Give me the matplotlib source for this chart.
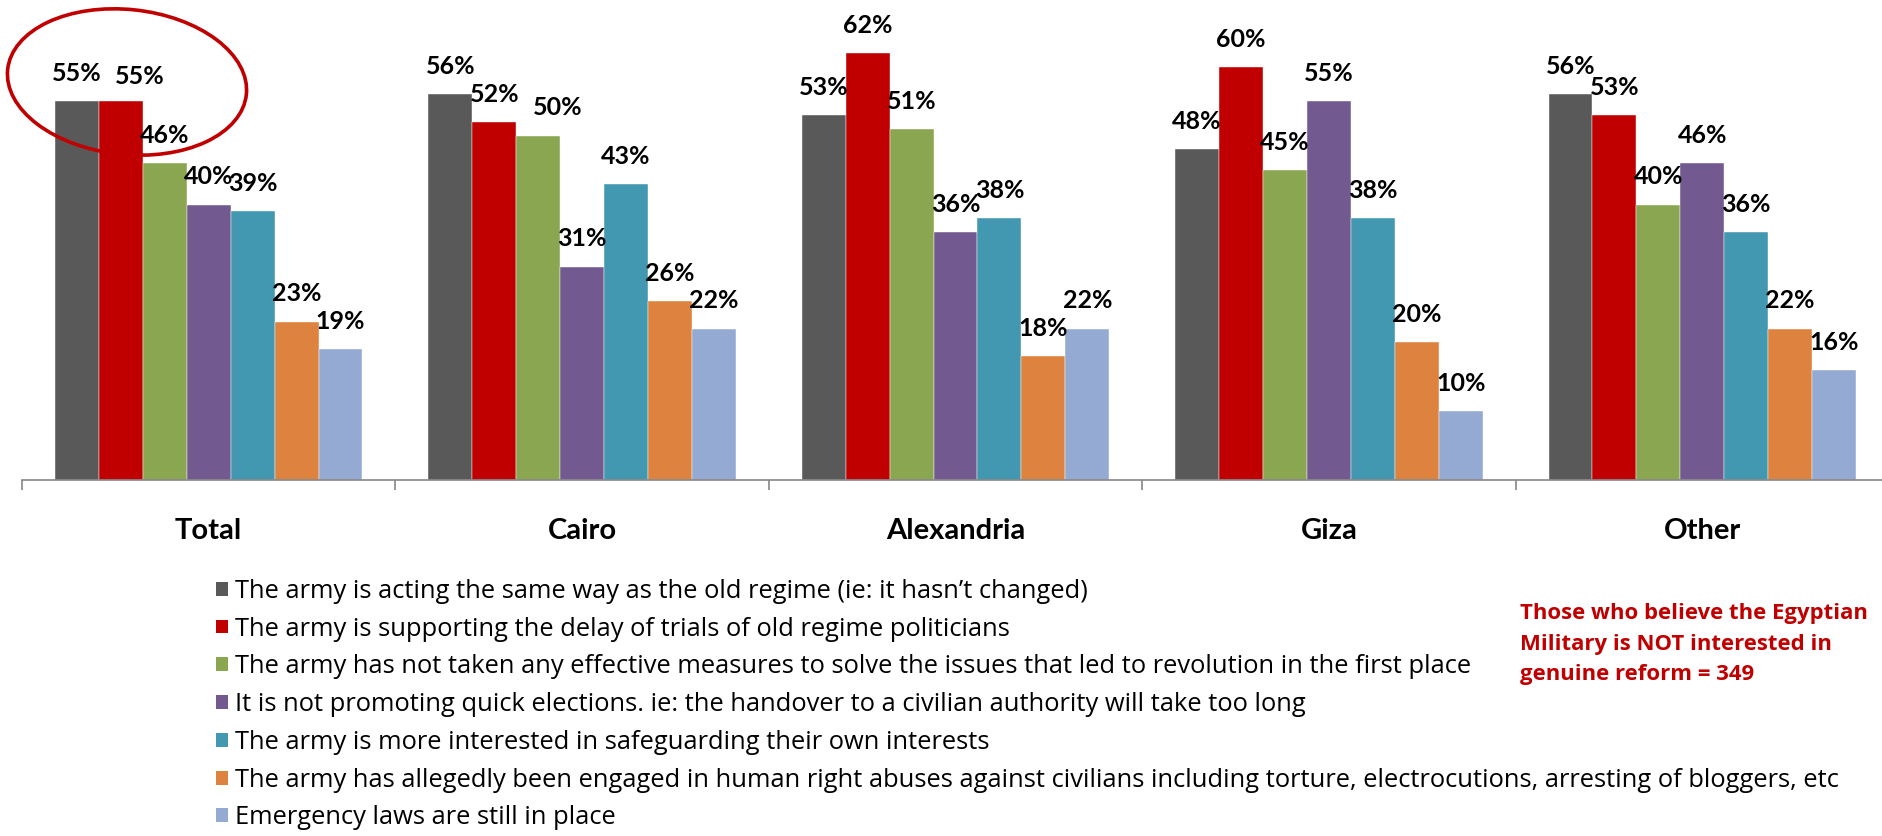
import matplotlib
matplotlib.use('Agg')
import matplotlib.pyplot as plt
from matplotlib.patches import Patch, Ellipse
from matplotlib.transforms import IdentityTransform
import numpy as np

plt.rcParams['font.family'] = ['Lato', 'DejaVu Sans']

regions = ['Total', 'Cairo', 'Alexandria', 'Giza', 'Other']
reasons = [
    "The army is acting the same way as the old regime (ie: it hasn\u2019t changed)",
    "The army is supporting the delay of trials of old regime politicians",
    "The army has not taken any effective measures to solve the issues that led to revolution in the first place",
    "It is not promoting quick elections. ie: the handover to a civilian authority will take too long",
    "The army is more interested in safeguarding their own interests",
    "The army has allegedly been engaged in human right abuses against civilians including torture, electrocutions, arresting of bloggers, etc",
    "Emergency laws are still in place",
]
same_as_old = [55, 56, 53, 48, 56]
delay_trials = [55, 52, 62, 60, 53]
no_measures = [46, 50, 51, 45, 40]
slow_elections = [40, 31, 36, 55, 46]
own_interests = [39, 43, 38, 38, 36]
abuses = [23, 26, 18, 20, 22]
emergency_laws = [19, 22, 22, 10, 16]
series = [same_as_old, delay_trials, no_measures, slow_elections,
          own_interests, abuses, emergency_laws]
colors = ['#595959', '#C00000', '#8BA650', '#725A91', '#4398B1', '#DD833F', '#95AAD2']
note = "Those who believe the Egyptian\nMilitary is NOT interested in\ngenuine reform = 349"

W, H = 1883, 836
fig = plt.figure(figsize=(W / 100, H / 100), dpi=100)
ax = fig.add_axes([22 / W, (H - 480) / H, 1867 / W, 482 / H])

x = np.arange(len(regions))
bw = 1 / 8.5
# a couple of labels were nudged by hand in the original
nudge = {(1, 0): (14, -2), (2, 1): (14, 0)}
for j, vals in enumerate(series):
    pos = x + (j - 3) * bw
    ax.bar(pos, vals, width=bw, color=colors[j], edgecolor='white', linewidth=0.3)
    for i, v in enumerate(vals):
        dx, dy = nudge.get((j, i), (0, 0))
        ax.annotate(f"{v}%", (pos[i], v), textcoords='offset points',
                    xytext=(dx, 20 + dy), ha='center', va='center',
                    fontsize=18, fontweight='bold')

ax.set_xlim(-0.5, len(regions) - 0.5)
ax.set_ylim(0, 70)
ax.set_yticks([])
for s in ['top', 'right', 'left']:
    ax.spines[s].set_visible(False)
ax.spines['bottom'].set_color('#868686')
ax.spines['bottom'].set_linewidth(1.2)
ax.set_xticks(x)
ax.set_xticklabels(regions, fontsize=21, fontweight='bold')
ax.tick_params(axis='x', which='major', length=0, pad=27.5)
ax.set_xticks(np.arange(len(regions) + 1) - 0.5, minor=True)
ax.tick_params(axis='x', which='minor', length=7.5, width=1.2, color='#868686')

handles = [Patch(facecolor=c, edgecolor='none') for c in colors]
fig.legend(handles, reasons, loc='upper left', bbox_to_anchor=(203 / W, 1 - 566 / H),
           frameon=False, borderpad=0, handlelength=0.46, handleheight=0.46,
           handletextpad=0.3, labelspacing=0.5,
           prop={'family': ['Open Sans', 'DejaVu Sans'], 'size': 18.4})

fig.text(1520 / W, 1 - 603 / H, note, color='#C00000', fontsize=15.9,
         fontweight='bold', family=['Open Sans', 'DejaVu Sans'],
         ha='left', va='top', linespacing=1.6)

fig.add_artist(Ellipse((127, H - 82), 240, 145, angle=-6, fill=False,
                       edgecolor='#C00000', linewidth=2.6,
                       transform=IdentityTransform()))

fig.savefig('out.png', dpi=100)
